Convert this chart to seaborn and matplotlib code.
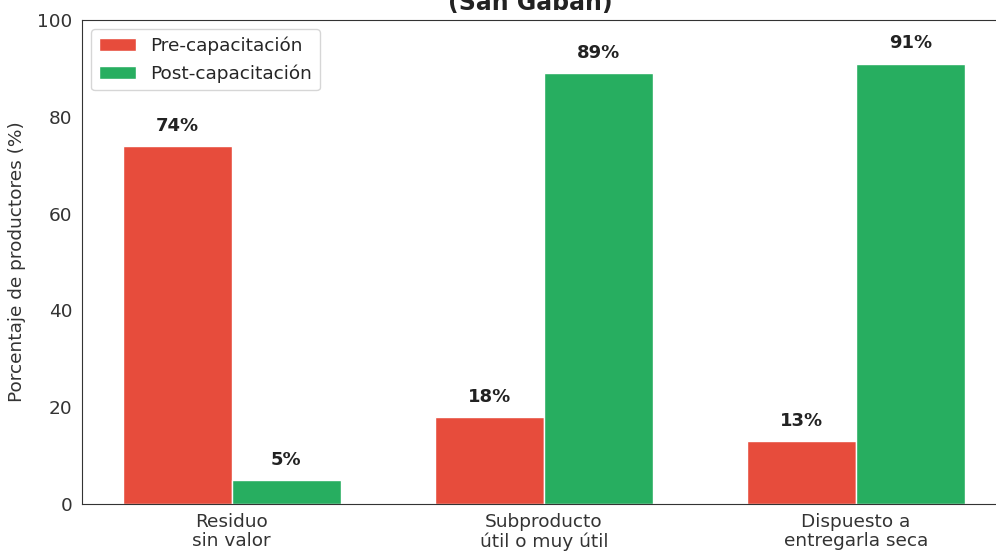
import matplotlib
matplotlib.use("Agg")
import matplotlib.pyplot as plt
import seaborn as sns
import pandas as pd

categories = ["Residuo\nsin valor", "Subproducto\nútil o muy útil", "Dispuesto a\nentregarla seca"]
series_names = ["Pre-capacitación", "Post-capacitación"]
pre_values = [74, 18, 13]
post_values = [5, 89, 91]
colors = ["#e74c3c", "#27ae60"]

df = pd.DataFrame({
    "cat": categories * 2,
    "serie": [series_names[0]] * 3 + [series_names[1]] * 3,
    "val": pre_values + post_values,
})

sns.set_style("white")
plt.rcParams["font.family"] = ["DejaVu Sans"]

fig = plt.figure(figsize=(9.96, 5.54), dpi=100)
ax = fig.add_axes([82/996, 50/554, 930/996, 484/554])

sns.barplot(data=df, x="cat", y="val", hue="serie", palette=colors,
            width=0.7, edgecolor="white", linewidth=1, ax=ax, saturation=1)

for cont in ax.containers:
    for bar in cont:
        h = bar.get_height()
        ax.text(bar.get_x() + bar.get_width()/2, h + 2.3, f"{h:.0f}%",
                ha="center", va="bottom", fontsize=13, fontweight="bold", color="#222222")

ax.set_ylim(0, 100)
ax.set_xlim(-0.48, 2.5)
ax.set_xlabel("")
ax.set_ylabel("Porcentaje de productores (%)", fontsize=13.3, color="#333333", labelpad=8)
ax.tick_params(axis="both", labelsize=13.3, colors="#333333")
ax.tick_params(axis="x", pad=3)
for lbl in ax.get_xticklabels():
    lbl.set_linespacing(1.1)
for s in ax.spines.values():
    s.set_color("#333333")

leg = ax.legend(loc="upper left", fontsize=13.3, frameon=True)
leg.get_frame().set_edgecolor("#cccccc")

fig.text(530/996, 1 - 15/554, "(San Gabán)", ha="center", va="bottom",
         fontsize=17, fontweight="bold", color="#222222")

fig.savefig("out.png", dpi=100)
